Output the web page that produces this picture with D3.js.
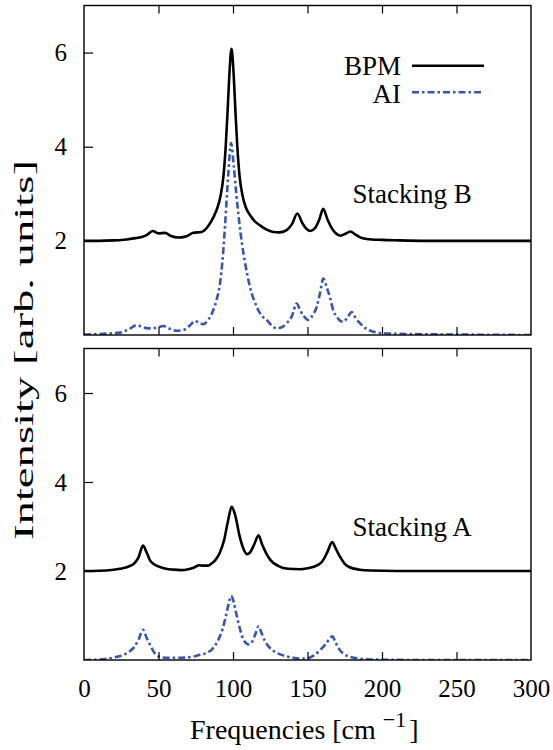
<!DOCTYPE html>
<html>
<head>
<meta charset="utf-8">
<script src="https://cdn.jsdelivr.net/npm/d3@7"></script>
<style>
  svg text { font-family: Times !important; }
</style>
</head>
<body style="margin:0">
<svg id="chart" width="553" height="750"></svg>
<script>
// ---------- data ----------
const xTicks = [0, 50, 100, 150, 200, 250, 300];
const yTicks = [2, 4, 6];
const seriesNames = ["BPM", "AI"];
const panelLabels = ["Stacking B", "Stacking A"];

// Stacking B (top panel)
const topBpmFreq = [0,10,20,28.6,35,38.7,42,46.1,49.9,54.4,58,63.3,68,73.4,79,83,86.8,89.5,91.6,93.5,95.1,96.3,97.5,99,100.5,101.7,102.9,104.5,106.5,108.5,111.4,114.5,118.1,122,127,131,136,139.5,143.2,146.5,149.5,151.9,155,158,160.5,163.5,166.5,169,172,175.5,178.7,182,185,189.8,200,211,230,260,300];
const topBpmInt  = [2.0,2.0,2.01,2.03,2.06,2.08,2.12,2.21,2.16,2.17,2.11,2.07,2.09,2.17,2.19,2.3,2.5,2.7,2.95,3.35,4.0,4.7,5.5,6.08,5.5,4.7,4.0,3.35,2.95,2.72,2.55,2.42,2.33,2.25,2.19,2.18,2.23,2.35,2.58,2.38,2.25,2.21,2.27,2.46,2.68,2.45,2.26,2.16,2.11,2.15,2.2,2.14,2.08,2.04,2.02,2.01,2.0,2.0,2.0];

const topAiFreq = [0,10,20,24,30,35.4,39,43.2,48,53.3,57,62.2,67,71,74.5,77,80,83.5,86.8,89,91.3,93,94.6,96.8,98.7,100.5,102.2,104,106,108,111.4,115.9,119,122.6,126,129.3,133,136,139.5,142.8,145,147.5,150.5,153.5,156.2,158.5,160.6,163,165.1,167.5,169.6,172,174,177,179.7,182.5,185.2,189,194.2,200,220,250,300];
const topAiInt  = [0.01,0.02,0.04,0.05,0.12,0.21,0.17,0.14,0.15,0.19,0.14,0.09,0.11,0.2,0.3,0.26,0.23,0.33,0.53,0.75,1.1,1.6,2.3,3.4,4.08,3.6,3.0,2.45,1.95,1.55,1.02,0.6,0.42,0.32,0.2,0.14,0.17,0.25,0.4,0.67,0.53,0.4,0.32,0.42,0.6,0.9,1.2,1.0,0.8,0.5,0.39,0.3,0.28,0.38,0.49,0.35,0.25,0.14,0.07,0.04,0.02,0.01,0.0];

// Stacking A (bottom panel)
const botBpmFreq = [0,6,15,24.2,30,33.4,36.5,39.6,42,44.3,47,51,55,60,65,70,74,77.4,80,83.2,86,88,91,94,96.5,99.1,101.5,104.6,107,109.3,111.5,114,117.2,119.5,122.4,125,130.6,137,144.8,150,156.7,160,163,166.6,169,172,175,177.9,185,192.2,210,300];
const botBpmInt  = [2.0,2.0,2.01,2.05,2.1,2.16,2.3,2.57,2.42,2.24,2.15,2.09,2.05,2.03,2.02,2.04,2.08,2.13,2.12,2.12,2.18,2.24,2.4,2.69,3.1,3.44,3.25,2.76,2.5,2.38,2.42,2.58,2.8,2.6,2.39,2.25,2.11,2.05,2.04,2.06,2.13,2.22,2.4,2.65,2.5,2.31,2.16,2.09,2.03,2.01,2.0,2.0];

const botAiFreq = [0,10,21.8,27,30.9,33.6,36.5,39.6,42,44.2,46.5,51,56,65,73.8,78,83.3,87,90.4,93,95.1,97,98.8,100.5,102.2,104.5,107,110.5,113,115,117.2,119,121.2,124,128.3,134,140,144.8,150,154,158.4,162,166.7,169,171.8,175,178.5,185,196,220,300];
const botAiInt  = [0.0,0.01,0.07,0.12,0.2,0.29,0.45,0.68,0.5,0.35,0.2,0.07,0.05,0.05,0.08,0.12,0.17,0.28,0.47,0.7,0.97,1.25,1.44,1.3,1.04,0.72,0.46,0.35,0.42,0.58,0.76,0.62,0.44,0.3,0.18,0.1,0.05,0.03,0.04,0.1,0.22,0.35,0.53,0.38,0.22,0.12,0.07,0.03,0.01,0.0,0.0];

// ---------- layout ----------
const svg = d3.select("#chart");
const left = 84, right = 531;
const panels = [
  { top: 5.5, bottom: 335, label: panelLabels[0], labelY: 202.5,
    bpm: d3.zip(topBpmFreq, topBpmInt), ai: d3.zip(topAiFreq, topAiInt), legend: true, xLabels: false },
  { top: 348.5, bottom: 660, label: panelLabels[1], labelY: 536,
    bpm: d3.zip(botBpmFreq, botBpmInt), ai: d3.zip(botAiFreq, botAiInt), legend: false, xLabels: true }
];

const x = d3.scaleLinear().domain([0, 300]).range([left, right]);
const aiColor = "#3a55ae";
const aiDash = "7,3,2.5,3";

function serif(sel, size) {
  return sel.attr("font-family", "Times").style("font-family", "Times").attr("font-size", size).attr("fill", "#000");
}

panels.forEach((p, i) => {
  const y = d3.scaleLinear().domain([0, 7]).range([p.bottom, p.top]);
  const g = svg.append("g");

  const clipId = "clip" + i;
  svg.append("clipPath").attr("id", clipId).append("rect")
    .attr("x", left).attr("y", p.top).attr("width", right - left).attr("height", p.bottom - p.top);

  const line = d3.line().x(d => x(d[0])).y(d => y(d[1])).curve(d3.curveMonotoneX);

  const lines = g.append("g").attr("clip-path", `url(#${clipId})`);
  lines.append("path").datum(p.ai)
    .attr("d", line).attr("fill", "none")
    .attr("stroke", aiColor).attr("stroke-width", 2.6)
    .attr("stroke-dasharray", aiDash);
  lines.append("path").datum(p.bpm)
    .attr("d", line).attr("fill", "none")
    .attr("stroke", "#000").attr("stroke-width", 2.6)
    .attr("stroke-linejoin", "round");

  const xInner = xTicks.filter(t => t > 0 && t < 300);
  const xb = g.append("g").attr("transform", `translate(0,${p.bottom})`)
    .call(d3.axisBottom(x).tickValues(p.xLabels ? xTicks : xInner)
      .tickSizeInner(-8).tickSizeOuter(0).tickPadding(19)
      .tickFormat(p.xLabels ? d3.format("d") : () => ""));
  serif(xb, 25);
  xb.select(".domain").remove();
  xb.selectAll(".tick line").attr("stroke", "#000").attr("stroke-width", 1.2)
    .filter(d => d === 0 || d === 300).remove();
  serif(xb.selectAll(".tick text"), 25);

  const xt = g.append("g").attr("transform", `translate(0,${p.top})`)
    .call(d3.axisTop(x).tickValues(xInner).tickSizeInner(-8).tickSizeOuter(0).tickFormat(() => ""));
  xt.select(".domain").remove();
  xt.selectAll(".tick line").attr("stroke", "#000").attr("stroke-width", 1.2);

  const yl = g.append("g").attr("transform", `translate(${left},0)`)
    .call(d3.axisLeft(y).tickValues(yTicks).tickSizeInner(-9).tickSizeOuter(0).tickPadding(17)
      .tickFormat(d3.format("d")));
  serif(yl, 25);
  yl.select(".domain").remove();
  yl.selectAll(".tick line").attr("stroke", "#000").attr("stroke-width", 1.2);
  serif(yl.selectAll(".tick text"), 25);

  g.append("rect").attr("x", left).attr("y", p.top)
    .attr("width", right - left).attr("height", p.bottom - p.top)
    .attr("fill", "none").attr("stroke", "#000").attr("stroke-width", 1.4);

  serif(g.append("text").attr("x", 352.5).attr("y", p.labelY), 27).text(p.label);

  if (p.legend) {
    const lg = g.append("g");
    serif(lg.append("text").attr("x", 401).attr("y", 75).attr("text-anchor", "end"), 27).text(seriesNames[0]);
    lg.append("line").attr("x1", 412).attr("x2", 484).attr("y1", 65.7).attr("y2", 65.7)
      .attr("stroke", "#000").attr("stroke-width", 2.6);
    serif(lg.append("text").attr("x", 401).attr("y", 103).attr("text-anchor", "end"), 27).text(seriesNames[1]);
    lg.append("line").attr("x1", 412).attr("x2", 484).attr("y1", 92.3).attr("y2", 92.3)
      .attr("stroke", aiColor).attr("stroke-width", 2.6).attr("stroke-dasharray", aiDash);
  }
});

// axis titles
const xl = serif(svg.append("text").attr("x", 190).attr("y", 739), 28);
xl.append("tspan").text("Frequencies [cm ");
xl.append("tspan").attr("dy", -12).attr("font-size", 22).text("\u22121");
xl.append("tspan").attr("dy", 12).attr("dx", 3).text("]");

serif(svg.append("text")
  .attr("transform", "translate(32.5,350) rotate(-90)")
  .attr("text-anchor", "middle"), 28)
  .attr("textLength", 380)
  .attr("lengthAdjust", "spacingAndGlyphs")
  .text("Intensity [arb. units]");
</script>
</body>
</html>
